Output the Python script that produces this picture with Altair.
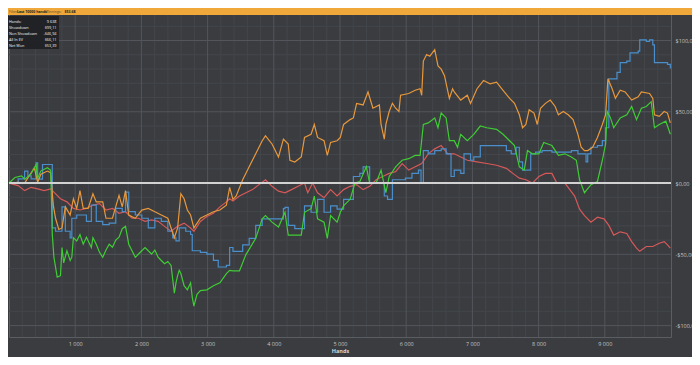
import altair as alt
import pandas as pd

# ---------------- data ----------------
net_won_hands = [0, 90, 190, 240, 330, 410, 430, 480, 580, 630,
                 654, 678, 728, 777, 801, 826, 875, 924, 949, 973,
                 1023, 1072, 1121, 1170, 1244, 1268, 1318, 1367, 1416, 1465,
                 1514, 1563, 1613, 1662, 1711, 1760, 1809, 1858, 1908, 1957,
                 2006, 2055, 2104, 2153, 2203, 2252, 2301, 2350, 2399, 2448,
                 2498, 2522, 2547, 2571, 2596, 2645, 2694, 2743, 2768, 2793,
                 2840, 2891, 2989, 3088, 3186, 3284, 3333, 3383, 3481, 3579,
                 3727, 3825, 3874, 3973, 4071, 4169, 4218, 4317, 4415, 4464,
                 4563, 4612, 4661, 4759, 4808, 4858, 4956, 5005, 5054, 5153,
                 5226, 5300, 5398, 5448, 5546, 5620, 5693, 5743, 5841, 5939,
                 6038, 6136, 6210, 6259, 6333, 6431, 6480, 6529, 6603, 6652,
                 6726, 6775, 6824, 6923, 7021, 7119, 7218, 7365, 7463, 7562,
                 7636, 7709, 7783, 7832, 7906, 8004, 8078, 8201, 8299, 8398,
                 8496, 8570, 8619, 8693, 8791, 8889, 8963, 9012, 9037, 9086,
                 9135, 9233, 9332, 9406, 9479, 9553, 9627, 9701, 9750, 9823,
                 9922, 9990]
net_won_values = [0, 3.9, 5.0, 2.7, 6.2, 13.0, 3.0, 8.4, 10.7, 9.0,
                  -36, -52, -66, -65, -45.2, -56, -47.5, -54.3, -52, -38.4,
                  -40.6, -36.1, -42.9, -38, -45.2, -38.4, -43, -48.6, -52.1, -47,
                  -42.9, -45, -40, -38, -32, -30.4, -42.9, -47.5, -52.1, -49.8,
                  -47.5, -45.2, -47.5, -49.8, -47, -52, -54.3, -56.6, -55, -57.8,
                  -77.2, -70, -65, -61.2, -63.5, -72, -74.9, -70, -80, -86.3,
                  -78, -75.5, -74.9, -72, -70, -63.5, -61.2, -61.6, -61.6, -50.2,
                  -38.8, -25.1, -22.8, -27.4, -30.8, -20.5, -36.5, -36.5, -36.5, -20.5,
                  -18, -9.1, -25.1, -27.4, -38.8, -22.8, -27.4, -20.5, -16.0, -11.4,
                  0, 1.1, 11.4, 0, 0, 9.1, -6.8, 4.6, 11.4, 16.0,
                  17.1, 19.4, 19.4, 41.1, 42.2, 45.7, 38.8, 49.1, 45.7, 29.7,
                  29.7, 25.1, 34.2, 29.7, 34.2, 40.0, 38.8, 37.7, 34.2, 29.7,
                  26.3, 11.4, 9.1, 22.8, 20.5, 20.5, 28.5, 26.3, 19.4, 20.5,
                  18.3, 16.0, 2.3, -6.8, -1.1, 1.1, 16.0, 27.4, 50.2, 45.7,
                  38.8, 45.7, 47.9, 53.7, 44.5, 52.5, 53.7, 57.1, 38.8, 41.1,
                  43.4, 34.2]

showdown_hands = [0, 138, 236, 285, 334, 408, 433, 506, 629, 654,
                  703, 752, 801, 851, 924, 949, 1023, 1121, 1170, 1244,
                  1318, 1416, 1514, 1613, 1711, 1760, 1809, 1908, 2006, 2104,
                  2203, 2301, 2399, 2473, 2522, 2571, 2670, 2743, 2768, 2891,
                  2989, 3088, 3161, 3284, 3333, 3383, 3432, 3530, 3628, 3727,
                  3825, 3973, 4145, 4169, 4218, 4317, 4464, 4563, 4661, 4759,
                  4858, 4956, 5054, 5202, 5300, 5349, 5448, 5595, 5669, 5718,
                  5792, 5890, 5988, 6087, 6185, 6224, 6259, 6333, 6431, 6529,
                  6603, 6677, 6726, 6824, 6873, 6972, 7021, 7119, 7218, 7414,
                  7513, 7586, 7660, 7709, 7758, 7832, 7881, 7955, 8053, 8201,
                  8398, 8496, 8594, 8668, 8717, 8742, 8791, 8889, 8963, 9012,
                  9061, 9135, 9184, 9233, 9332, 9381, 9504, 9528, 9627, 9676,
                  9725, 9750, 9873, 9947, 9990]
showdown_values = [0, 3, 8.4, 5, 3, 14.2, 2.7, 13.0, 13.0, -31.5,
                   -33.8, -33.8, -16.7, -33.8, -38.4, -24.7, -22.4, -22.4, -26.9, -15.5,
                   -26.9, -29.2, -28.1, -17.8, -20.1, -6.4, -20.1, -22.4, -24.7, -31.5,
                   -24.7, -26.9, -33.8, -38.4, -40.6, -31.5, -33.8, -36.1, -47.5, -48.6,
                   -49.8, -54.3, -58.9, -57.8, -45.2, -48, -47.9, -43.4, -38.8, -29.7,
                   -25.1, -25.1, -18, -17.1, -29.7, -32.0, -16.0, -20.5, -11.4, -20.5,
                   -16.0, -18.3, -11.4, 4.6, 6.8, 11.4, 0, 0, -9.1, -11.4,
                   2.3, 2.3, 3.4, 6.8, 9.1, 0, 22.8, 20.5, 22.8, 24.0,
                   20.5, 4.6, 9.1, 6.8, 20.5, 16.0, 18.3, 26.3, 26.3, 26.3,
                   22.8, 20.5, 25.1, 14.8, 9.1, 9.1, 20.5, 21.7, 22.8, 21.7,
                   21.7, 22.8, 20.5, 20.5, 14.8, 20.5, 25.1, 26.3, 29.7, 38.8,
                   73.1, 73.1, 77.6, 84.5, 85.6, 91.3, 92.5, 100.5, 99.3, 100.5,
                   97.0, 84.5, 84.5, 83.3, 80.4]

all_in_ev_hands = [0, 138, 236, 383, 433, 482, 580, 629, 669, 703,
                   752, 801, 851, 924, 973, 1023, 1072, 1121, 1195, 1268,
                   1318, 1416, 1465, 1563, 1662, 1711, 1760, 1809, 1908, 2006,
                   2104, 2203, 2301, 2399, 2448, 2498, 2547, 2596, 2645, 2694,
                   2743, 2793, 2891, 2989, 3088, 3186, 3284, 3333, 3383, 3432,
                   3530, 3628, 3727, 3825, 3874, 3973, 4071, 4145, 4218, 4243,
                   4317, 4415, 4464, 4563, 4612, 4661, 4759, 4808, 4858, 4956,
                   5005, 5054, 5153, 5202, 5251, 5349, 5423, 5497, 5595, 5620,
                   5669, 5693, 5743, 5792, 5841, 5890, 5915, 6038, 6136, 6210,
                   6234, 6259, 6308, 6357, 6431, 6480, 6529, 6578, 6652, 6701,
                   6726, 6824, 6923, 6972, 7070, 7168, 7267, 7365, 7463, 7562,
                   7636, 7709, 7758, 7808, 7857, 7931, 7980, 8029, 8103, 8176,
                   8250, 8299, 8373, 8447, 8521, 8594, 8643, 8693, 8742, 8816,
                   8889, 8963, 9012, 9047, 9111, 9160, 9233, 9307, 9406, 9504,
                   9553, 9676, 9725, 9750, 9823, 9897, 9947, 9990]
all_in_ev_values = [0, 0.5, 0, 10.7, 0.5, 6.2, 8.4, 7.3, -15.5, -24.7,
                    -32.6, -31.5, -16.7, -22.4, -11.0, -17.8, -5.3, -17.8, -17.8, -7.5,
                    -13.2, -13.2, -24.7, -24.7, -8.7, -16.7, -5.3, -22.4, -24.7, -19,
                    -17.8, -20.1, -22.4, -24.7, -31.5, -38.4, -31.5, -7.5, -11.0, -18.9,
                    -22.4, -31.5, -24.7, -22.4, -20.1, -18.9, -15.5, -3.0, -11.4, -9.1,
                    2.3, 11.4, 20.5, 29.7, 33.1, 27.4, 18.3, 30.8, 27.4, 16.0,
                    14.8, 18.3, 32.0, 34.2, 41.1, 32.0, 29.7, 19.4, 28.5, 29.7,
                    32.0, 41.1, 44.5, 45.7, 55.9, 54.8, 63.9, 52.5, 54.8, 41.1,
                    30.8, 41.1, 50.2, 55.9, 52.5, 50.2, 61.6, 62.8, 65.1, 66.2,
                    61.6, 85.6, 90.2, 89.0, 93.6, 82.2, 79.9, 75.3, 59.4, 66.2,
                    63.9, 58.2, 61.6, 55.9, 66.2, 71.9, 69.6, 70.8, 65.1, 59.4,
                    55.9, 47.9, 38.8, 41.1, 51.4, 49.1, 41.1, 52.5, 55.9, 58.2,
                    53.7, 47.9, 50.2, 47.9, 44.5, 34.2, 25.1, 22.8, 22.8, 25.1,
                    32.0, 41.1, 47.9, 73.1, 66.2, 59.4, 65.1, 63.9, 58.2, 60.5,
                    63.9, 62.8, 59.4, 47.9, 46.8, 50.2, 49.1, 42.2]

non_showdown_hands = [0, 138, 236, 334, 433, 531, 629, 678, 777, 875,
                      973, 1072, 1170, 1268, 1367, 1465, 1563, 1662, 1760, 1858,
                      1957, 2055, 2153, 2252, 2350, 2448, 2547, 2645, 2743, 2793,
                      2891, 2989, 3088, 3186, 3284, 3333, 3383, 3481, 3579, 3678,
                      3776, 3874, 3973, 4071, 4169, 4268, 4366, 4464, 4513, 4587,
                      4661, 4759, 4858, 4956, 5054, 5153, 5251, 5349, 5448, 5546,
                      5644, 5743, 5841, 5939, 6038, 6136, 6234, 6333, 6431, 6529,
                      6628, 6726, 6824, 6923, 7070, 7218, 7365, 7513, 7611, 7709,
                      7808, 7906, 8004, 8103, 8201, 8275, 8398, 8471, 8545, 8619,
                      8693, 8791, 8889, 8988, 9061, 9135, 9233, 9332, 9406, 9479,
                      9528, 9627, 9725, 9823, 9897, 9947, 9990]
non_showdown_values = [0, -1.8, -5.3, -3.0, -4.1, -5.3, -4.1, -6.4, -11.0, -13.2,
                       -17.8, -18.9, -17.8, -15.5, -14.4, -18.9, -17.8, -21.2, -20.1, -24.7,
                       -24.7, -26.9, -25.8, -26.9, -30.4, -33.8, -30.4, -28.1, -31.5, -33.8,
                       -26.9, -23.5, -21.2, -16.7, -13.2, -11.0, -12.6, -9.1, -6.8, -4.6,
                       -1.1, 2.3, -2.3, -5.7, -6.8, -4.6, -2.3, 0, -6.8, 0,
                       -6.8, -10.3, -4.6, -9.1, -4.6, -2.3, -1.1, -4.6, -2.3, 2.3,
                       4.6, 6.8, 8.0, 13.7, 9.1, 11.4, 13.7, 20.5, 24.0, 26.3,
                       20.5, 20.5, 18.3, 16.0, 14.8, 13.7, 12.5, 10.3, 6.8, 3.4,
                       2.3, 0, 4.6, 6.8, 6.8, 0, 0, -4.6, -9.1, -18.3,
                       -22.8, -27.4, -24.0, -25.1, -29.7, -36.5, -34.2, -35.4, -41.1, -45.7,
                       -47.9, -44.5, -44.5, -42.2, -41.1, -43.4, -45.7]

x_tick_values = [1000, 2000, 3000, 4000, 5000, 6000, 7000, 8000, 9000]
y_tick_values = [-100, -50, 0, 50, 100]
x_minor_values = [v for v in range(200, 10000, 200) if v % 1000 != 0]
y_minor_values = [v for v in range(-100, 120, 10) if v % 50 != 0]
y_major_values = [-100, -50, 50, 100]

legend_labels = ["Hands:", "Showdown", "Non Showdown", "All In EV", "Net Won"]
legend_values = ["9 638", "$99,11", "-$46,94", "$66,11", "$53,39"]

# ---------------- styling ----------------
BG = "#3a3c40"
FONT = "Open Sans"
W, H = 662, 325
PAD_R = 21

xs = alt.Scale(domain=[0, 10000], nice=False, zero=False)
ys = alt.Scale(domain=[-108, 120], nice=False, zero=False)

x_axis = alt.Axis(values=x_tick_values,
                  labelExpr="replace(format(datum.value, ','), ',', ' ')",
                  title="Hands", grid=False, ticks=False, domain=False,
                  labelColor="#c4c4c4", labelFontSize=5.5, labelFont=FONT,
                  labelPadding=4, titleColor="#d8d8d8", titleFontSize=5.5,
                  titleFont=FONT, titleFontWeight="bold", titlePadding=2)
y_axis = alt.Axis(orient="right", values=y_tick_values,
                  labelExpr="(datum.value < 0 ? '-' : '') + '$' + abs(datum.value) + ',00'",
                  title="", grid=False, ticks=False, domain=False,
                  labelColor="#c4c4c4", labelFontSize=5.5, labelFont=FONT,
                  labelPadding=4)

X = alt.X("hands:Q", scale=xs, axis=x_axis)
Y = alt.Y("value:Q", scale=ys, axis=y_axis)

layers = []

# minor grid
layers.append(alt.Chart(pd.DataFrame({"hands": x_minor_values}))
              .mark_rule(color="#43464b", strokeWidth=1).encode(x=X))
layers.append(alt.Chart(pd.DataFrame({"value": y_minor_values}))
              .mark_rule(color="#43464b", strokeWidth=1).encode(y=Y))
# major grid
layers.append(alt.Chart(pd.DataFrame({"hands": x_tick_values}))
              .mark_rule(color="#52555b", strokeWidth=1).encode(x=X))
layers.append(alt.Chart(pd.DataFrame({"value": y_major_values}))
              .mark_rule(color="#52555b", strokeWidth=1).encode(y=Y))

series = [
    ("Non Showdown", non_showdown_hands, non_showdown_values, "#d75858", "linear"),
    ("Showdown", showdown_hands, showdown_values, "#4a8fcc", "step-after"),
    ("All In EV", all_in_ev_hands, all_in_ev_values, "#e8983c", "linear"),
    ("Net Won", net_won_hands, net_won_values, "#3fcc35", "linear"),
]
for name, hx, vy, col, interp in series:
    df = pd.DataFrame({"hands": hx, "value": vy, "series": name})
    layers.append(alt.Chart(df).mark_line(color=col, strokeWidth=1.2,
                                          interpolate=interp)
                  .encode(x=X, y=Y))

# zero line
layers.append(alt.Chart(pd.DataFrame({"value": [0]}))
              .mark_rule(color="#d2d2d2", strokeWidth=2).encode(y=Y))

one = pd.DataFrame({"k": [0]})

# legend box
layers.append(alt.Chart(one).mark_rect(color="#1f2124", opacity=0.95).encode(
    x=alt.value(-2), x2=alt.value(50), y=alt.value(4), y2=alt.value(37)))
for i, (lab, val) in enumerate(zip(legend_labels, legend_values)):
    yy = 9.5 + i * 6.1
    layers.append(alt.Chart(one).mark_text(text=lab, align="left",
                                           baseline="middle", fontSize=3.8,
                                           font=FONT, color="#f2f2f2")
                  .encode(x=alt.value(0), y=alt.value(yy)))
    layers.append(alt.Chart(one).mark_text(text=val, align="right",
                                           baseline="middle", fontSize=3.8,
                                           font=FONT, color="#f2f2f2")
                  .encode(x=alt.value(47.5), y=alt.value(yy)))

# top filter bar
layers.append(alt.Chart(one).mark_rect(color="#f0a83a").encode(
    x=alt.value(-1), x2=alt.value(W + PAD_R), y=alt.value(-4), y2=alt.value(3)))
bar_parts = [("Filter:", 0, "normal", "#5e4a26"),
             ("Last 10000 hands", 8, "bold", "#202020"),
             ("Winnings:", 36.5, "normal", "#5e4a26"),
             ("$53.68", 55.5, "bold", "#202020")]
for txt, xx, wt, col in bar_parts:
    layers.append(alt.Chart(one).mark_text(text=txt, align="left",
                                           baseline="middle", fontSize=3.5,
                                           font=FONT, fontWeight=wt, color=col)
                  .encode(x=alt.value(xx), y=alt.value(-0.5)))

chart = alt.layer(*layers).properties(
    width=W, height=H,
    autosize=alt.AutoSizeParams(type="none"),
    padding={"left": 1, "top": 4, "right": PAD_R, "bottom": 20},
    background=BG,
).configure_view(stroke="#5a5d62", strokeWidth=1)

chart.save("out.html", embed_options={"renderer": "svg", "actions": False})
